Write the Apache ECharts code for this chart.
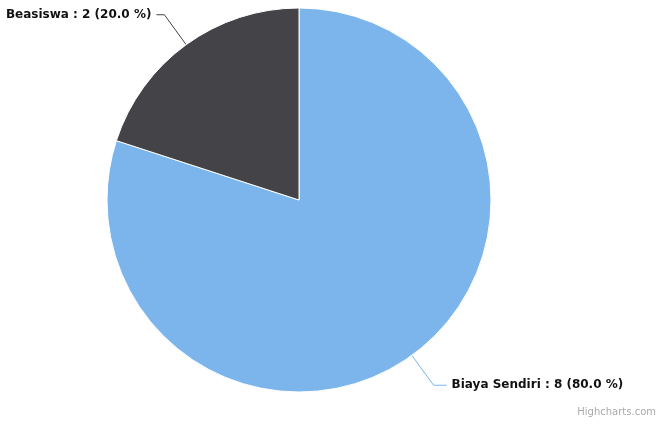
<!DOCTYPE html>
<html>
<head>
<meta charset="utf-8">
<script src="https://cdn.jsdelivr.net/npm/echarts@6/dist/echarts.min.js"></script>
<style>
html,body{margin:0;padding:0;background:#fff;}
#main{width:657px;height:425px;}
</style>
</head>
<body>
<div id="main"></div>
<script>
var categories = ["Biaya Sendiri", "Beasiswa"];
var values = [8, 2];
var colors = ["#7cb5ec", "#434348"];

var chart = echarts.init(document.getElementById('main'), null, {renderer: 'canvas'});
var total = values.reduce(function(a, b){ return a + b; }, 0);
var lineLen2 = [13, 8];
var data = categories.map(function(c, i){
  return {name: c, value: values[i], itemStyle: {color: colors[i]}, labelLine: {length2: lineLen2[i], lineStyle: {color: colors[i]}}};
});
chart.setOption({
  animation: false,
  backgroundColor: '#ffffff',
  graphic: [{
    type: 'text',
    right: 1,
    bottom: 8,
    style: {text: 'Highcharts.com', fill: '#aaaaaa', font: '10px "DejaVu Sans", sans-serif'}
  }],
  series: [{
    type: 'pie',
    center: [299, 200],
    radius: 192,
    startAngle: 90,
    clockwise: true,
    avoidLabelOverlap: false,
    itemStyle: {borderColor: '#ffffff', borderWidth: 1},
    label: {
      show: true,
      formatter: function(p){ return p.name + ' : ' + p.value + ' (' + (p.value / total * 100).toFixed(1) + ' %)'; },
      color: '#111111',
      fontWeight: 'bold',
      fontSize: 12,
      fontFamily: '"DejaVu Sans", Verdana, sans-serif',
      distanceToLabelLine: 5
    },
    labelLine: {show: true, length: 37, length2: 9, lineStyle: {width: 1}},
    emphasis: {disabled: true},
    data: data
  }]
});
</script>
</body>
</html>
